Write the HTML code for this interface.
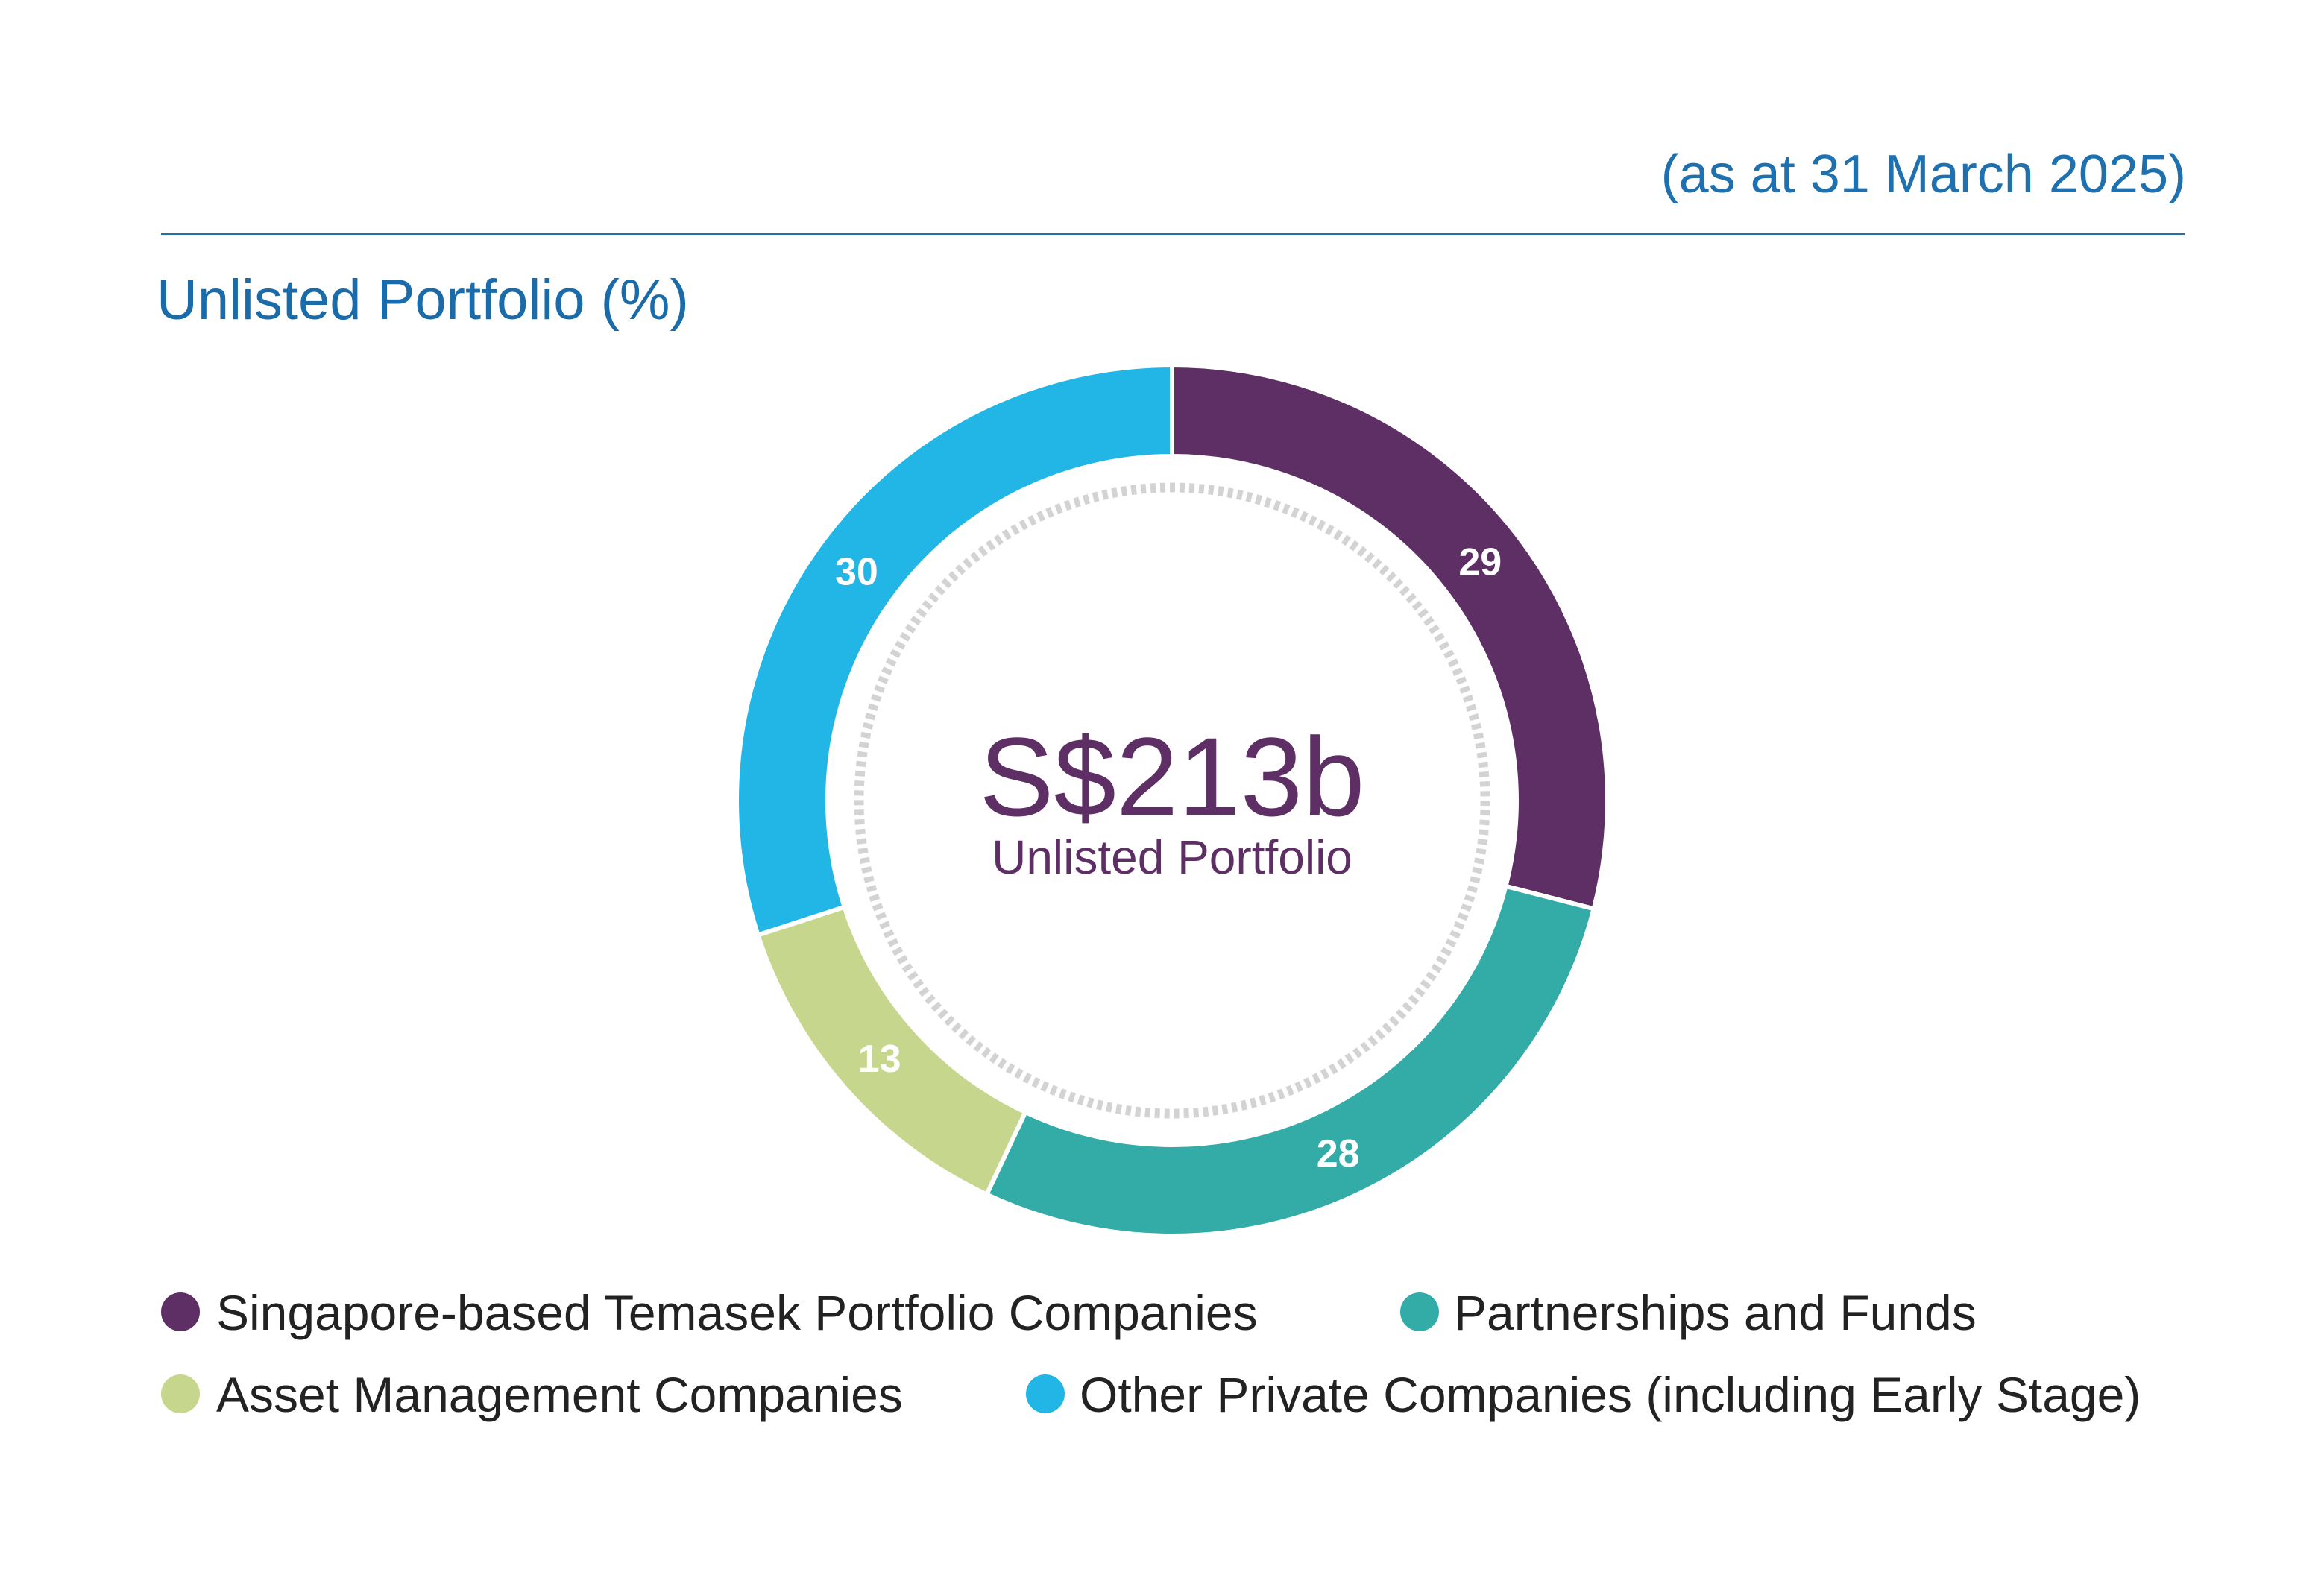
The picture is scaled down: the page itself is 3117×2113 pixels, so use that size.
<!DOCTYPE html>
<html><head><meta charset="utf-8"><style>
html,body{margin:0;padding:0;background:#fff;}
body{width:3117px;height:2108px;overflow:hidden;font-family:"Liberation Sans",sans-serif;}
</style></head><body>
<svg id="chart" width="3117" height="2108" viewBox="0 0 3117 2108" xmlns="http://www.w3.org/2000/svg">
<text x="2932" y="258" text-anchor="end" font-size="72" fill="#1F70AE" font-family="Liberation Sans, sans-serif">(as at 31 March 2025)</text>
<line x1="216" y1="314" x2="2930" y2="314" stroke="#1F70AE" stroke-width="2"/>
<text x="210" y="428" font-size="76" fill="#1A6BAA" font-family="Liberation Sans, sans-serif">Unlisted Portfolio (%)</text>
<circle cx="1572" cy="1074" r="420" fill="none" stroke="#D3D3D3" stroke-width="13" stroke-dasharray="7 6"/>
<g id="slices"></g>
<g id="labels"></g>
<text x="1572" y="1094" text-anchor="middle" font-size="150" fill="#5E2F65" font-family="Liberation Sans, sans-serif">S$213b</text>
<text x="1572" y="1172" text-anchor="middle" font-size="64" fill="#5E2F65" font-family="Liberation Sans, sans-serif">Unlisted Portfolio</text>
<g>
<circle cx="242" cy="1760" r="26" fill="#5E2F65"/>
<text x="290" y="1784" font-size="66" fill="#222">Singapore-based Temasek Portfolio Companies</text>
<circle cx="1904" cy="1760" r="26" fill="#33ACA8"/>
<text x="1950" y="1784" font-size="66" fill="#222">Partnerships and Funds</text>
<circle cx="242" cy="1870" r="26" fill="#C6D68C"/>
<text x="290" y="1894" font-size="66" fill="#222">Asset Management Companies</text>
<circle cx="1402" cy="1870" r="26" fill="#22B6E7"/>
<text x="1448" y="1894" font-size="66" fill="#222">Other Private Companies (including Early Stage)</text>
</g>
</svg>
<script>
const categories = ["Singapore-based Temasek Portfolio Companies","Partnerships and Funds","Asset Management Companies","Other Private Companies"];
const values = [29, 28, 13, 30];
const valueLabels = ["29","28","13","30"];
const colors = ["#5E2F65","#33ACA8","#C6D68C","#22B6E7"];
const cx=1572, cy=1074, R=584, r=462;
const total = values.reduce((a,b)=>a+b,0);
const ns="http://www.w3.org/2000/svg";
function pt(rad,a){return [cx+rad*Math.sin(a), cy-rad*Math.cos(a)];}
let acc=0;
const gs=document.getElementById('slices'), gl=document.getElementById('labels');
values.forEach((v,i)=>{
  const a0=acc/total*2*Math.PI, a1=(acc+v)/total*2*Math.PI; acc+=v;
  const large=(a1-a0)>Math.PI?1:0;
  const p0=pt(R,a0),p1=pt(R,a1),q1=pt(r,a1),q0=pt(r,a0);
  const p=document.createElementNS(ns,'path');
  p.setAttribute('d',`M${p0[0]},${p0[1]} A${R},${R} 0 ${large} 1 ${p1[0]},${p1[1]} L${q1[0]},${q1[1]} A${r},${r} 0 ${large} 0 ${q0[0]},${q0[1]} Z`);
  p.setAttribute('fill',colors[i]);p.setAttribute('stroke','#fff');p.setAttribute('stroke-width','6');
  
  
  gs.appendChild(p);
  const m=pt((R+r)/2,(a0+a1)/2);
  const t=document.createElementNS(ns,'text');
  t.setAttribute('x',m[0]);t.setAttribute('y',m[1]+18);
  t.setAttribute('text-anchor','middle');t.setAttribute('font-size','52');t.setAttribute('font-weight','bold');t.setAttribute('fill','#fff');
  t.textContent=valueLabels[i];
  
  
  gl.appendChild(t);
});
</script>
</body></html>
